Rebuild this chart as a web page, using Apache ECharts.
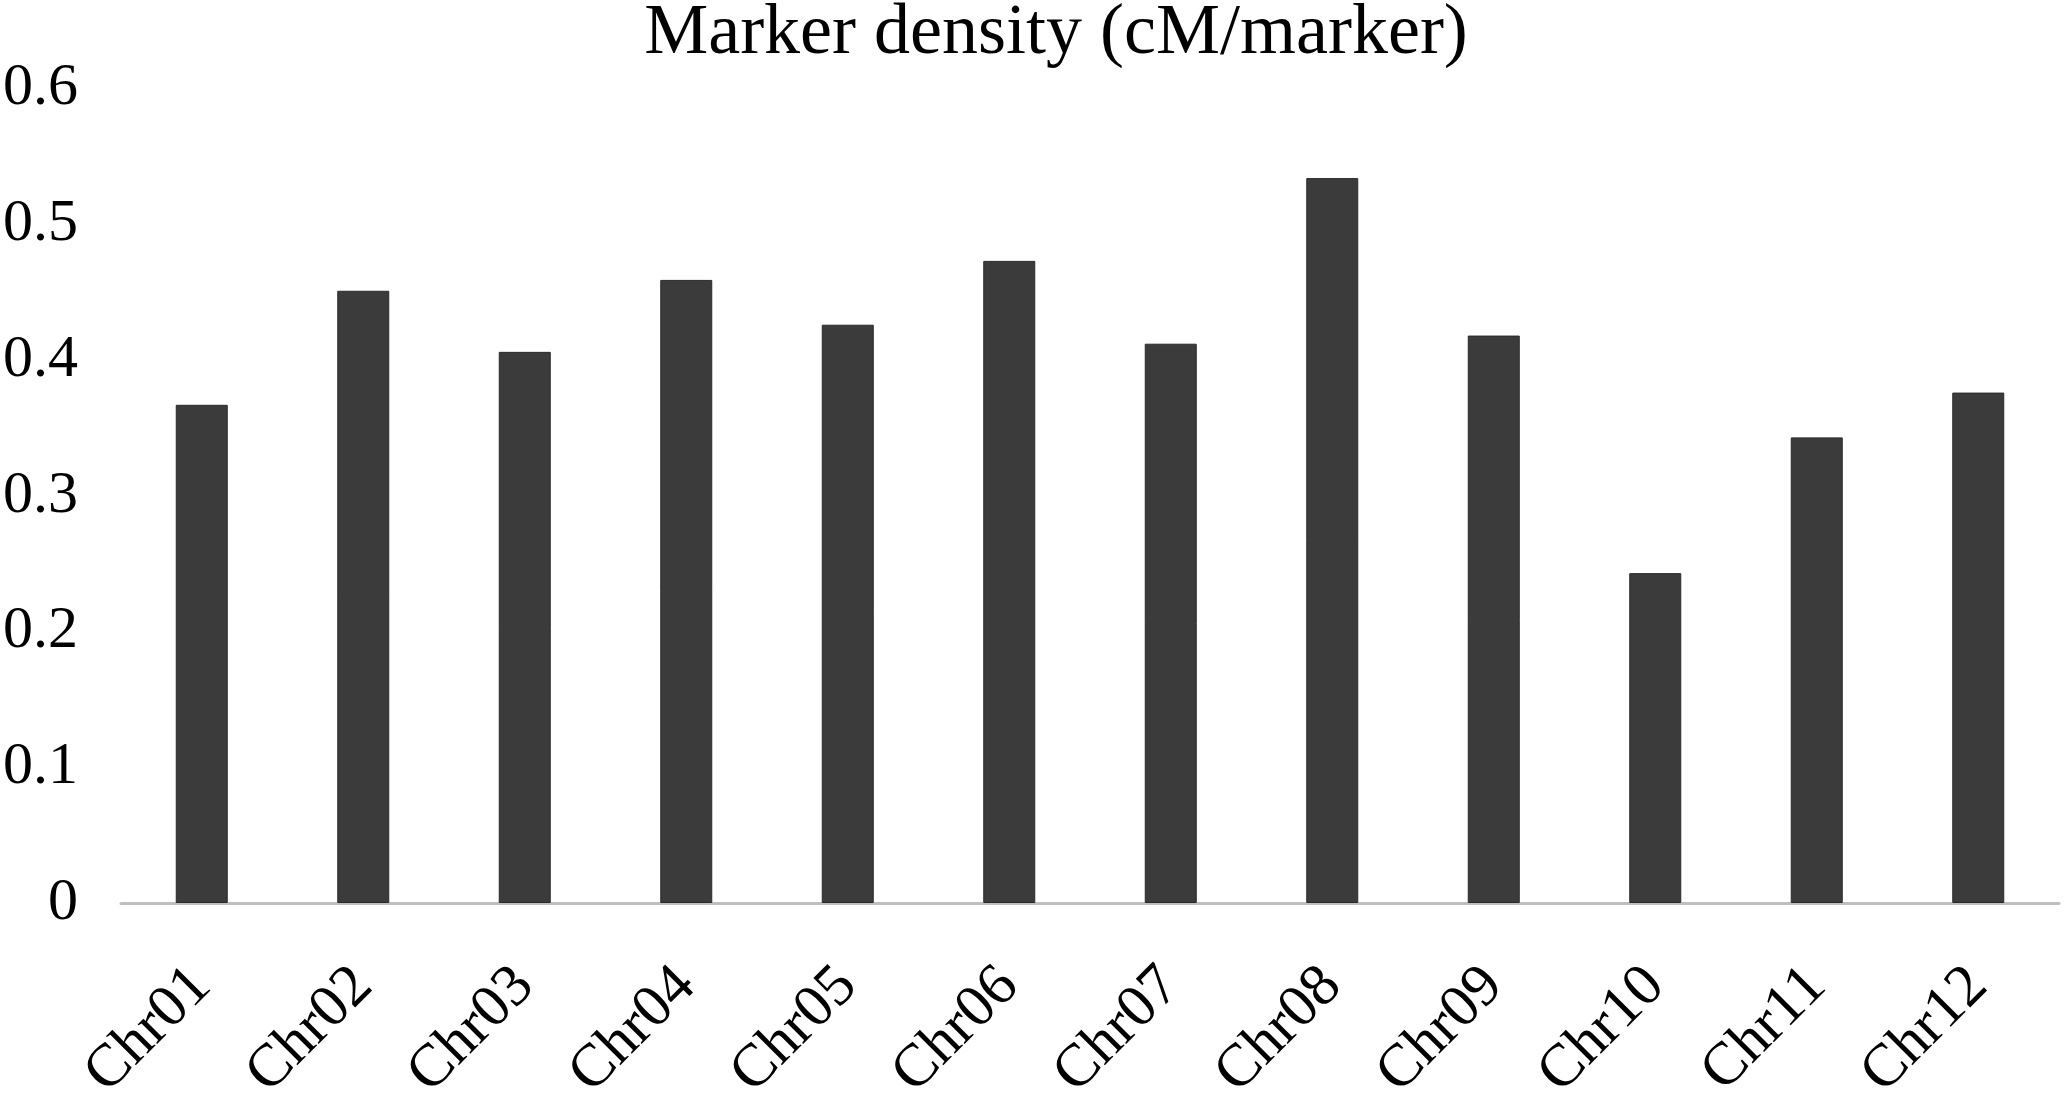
<!DOCTYPE html>
<html>
<head>
<meta charset="utf-8">
<title>Marker density</title>
<script src="https://cdn.jsdelivr.net/npm/echarts@6/dist/echarts.min.js"></script>
<style>
  html, body { margin: 0; padding: 0; background: #fff; overflow: hidden; }
  #chart { width: 2067px; height: 1097px; }
</style>
</head>
<body>
<div id="chart"></div>
<script>
const chromosomes = ['Chr01', 'Chr02', 'Chr03', 'Chr04', 'Chr05', 'Chr06',
  'Chr07', 'Chr08', 'Chr09', 'Chr10', 'Chr11', 'Chr12']
const density = [0.367, 0.451, 0.406, 0.459, 0.426, 0.473,
  0.412, 0.534, 0.418, 0.243, 0.343, 0.376]

const serif = "'Liberation Serif', 'Times New Roman', serif"

const chart = echarts.init(document.getElementById('chart'))
chart.setOption({
  animation: false,
  backgroundColor: '#fff',
  title: {
    text: 'Marker density (cM/marker)',
    left: 1056,
    top: -2,
    padding: 0,
    textAlign: 'center',
    textStyle: {
      fontFamily: serif,
      fontSize: 72,
      fontWeight: 'normal',
      color: '#000'
    }
  },
  grid: {
    left: 121,
    right: 8,
    top: 88.5,
    bottom: 194,
    outerBoundsMode: 'none'
  },
  xAxis: {
    type: 'category',
    data: chromosomes,
    axisTick: { show: false },
    axisLine: {
      show: true,
      lineStyle: { color: '#bfbfbf', width: 3 }
    },
    axisLabel: {
      rotate: 45,
      margin: 74,
      interval: 0,
      fontFamily: serif,
      fontSize: 60,
      color: '#000'
    }
  },
  yAxis: {
    type: 'value',
    min: 0,
    max: 0.6,
    interval: 0.1,
    axisLine: { show: false },
    axisTick: { show: false },
    splitLine: { show: false },
    axisLabel: {
      margin: 43,
      fontFamily: serif,
      fontSize: 60,
      color: '#000'
    }
  },
  series: [
    {
      type: 'bar',
      data: density,
      barWidth: 52,
      itemStyle: {
        color: '#3b3b3b',
        borderColor: '#2a2a2a',
        borderWidth: 1
      }
    }
  ]
})
</script>
</body>
</html>
